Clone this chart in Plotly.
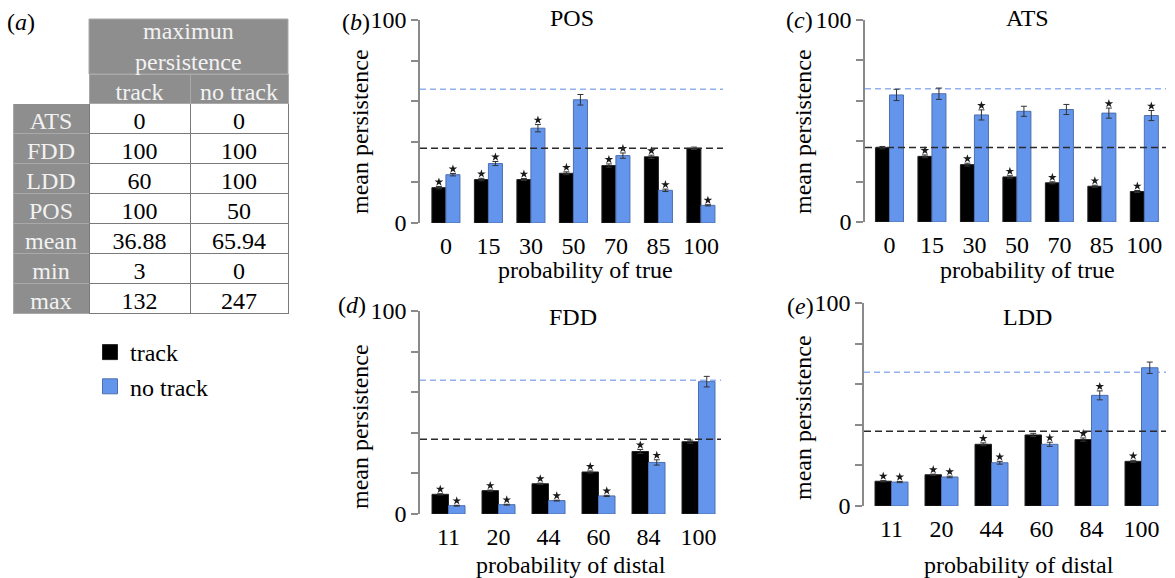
import plotly.graph_objects as go

W, H = 1175, 578
FONT = "Liberation Serif"
FS = 24

# ---------------- data ----------------
table_rows = ["ATS", "FDD", "LDD", "POS", "mean", "min", "max"]
table_track = ["0", "100", "60", "100", "36.88", "3", "132"]
table_notrack = ["0", "100", "100", "50", "65.94", "0", "247"]
table_group = "maximun<br>persistence"
table_cols = ["track", "no\u00a0track"]
mean_track = 36.88
mean_notrack = 65.94

true_cats = ["0", "15", "30", "50", "70", "85", "100"]
distal_cats = ["11", "20", "44", "60", "84", "100"]

pos_track = [17.4, 21.4, 21.4, 24.5, 28.3, 32.6, 36.8]
pos_notrack = [23.8, 29.3, 46.7, 60.7, 33.2, 16.1, 8.7]
pos_track_err = [0.6, 0.6, 0.5, 0.7, 0.8, 0.8, 0.6]
pos_notrack_err = [0.6, 1.0, 1.8, 2.6, 1.3, 0.6, 0.3]
pos_star_track = [1, 1, 1, 1, 1, 1, 0]
pos_star_notrack = [1, 1, 1, 0, 1, 1, 1]

ats_track = [36.8, 32.5, 28.4, 22.3, 19.4, 17.7, 15.1]
ats_notrack = [62.9, 63.5, 53.0, 54.8, 55.7, 53.9, 52.7]
ats_track_err = [0.6, 0.7, 0.7, 0.6, 0.5, 0.5, 0.5]
ats_notrack_err = [2.8, 2.8, 2.5, 2.5, 2.5, 2.5, 2.5]
ats_star_track = [0, 1, 1, 1, 1, 1, 1]
ats_star_notrack = [0, 0, 1, 0, 0, 1, 1]

fdd_track = [9.7, 11.5, 14.9, 20.7, 30.8, 35.6]
fdd_notrack = [4.1, 4.6, 6.6, 8.9, 25.4, 65.2]
fdd_track_err = [0.3, 0.3, 0.3, 0.5, 1.0, 0.8]
fdd_notrack_err = [0.2, 0.2, 0.2, 0.3, 1.3, 2.6]
fdd_star_track = [1, 1, 1, 1, 1, 0]
fdd_star_notrack = [1, 1, 1, 1, 1, 0]

ldd_track = [12.2, 15.4, 30.4, 35.0, 32.7, 22.0]
ldd_notrack = [11.8, 14.3, 21.3, 30.4, 54.5, 68.1]
ldd_track_err = [0.3, 0.3, 0.7, 0.8, 0.8, 0.5]
ldd_notrack_err = [0.3, 0.4, 0.7, 1.0, 2.2, 2.8]
ldd_star_track = [1, 1, 1, 0, 1, 1]
ldd_star_notrack = [1, 1, 1, 1, 1, 0]

# ---------------- styles ----------------
BLACK = "#000000"
BLUE = "#6495ED"
BLUE_LINE = "#4d6fae"
GRAY = "#8e8e8e"
GRAY_LINE = "#a9a9a9"
AXIS_GRAY = "#8a8a8a"
HEAD_TXT = "#f2f2f2"


def px_x(x):
    return x / W


def px_y(y):
    return 1 - y / H


panels = [
    dict(key="", cats=true_cats, t=pos_track, n=pos_notrack, te=pos_track_err, ne=pos_notrack_err,
         st=pos_star_track, sn=pos_star_notrack, xd=(420, 723), yd=(20, 223), xr=(-0.61, 6.52),
         title="POS", letter="b", xtitle="probability of true",
         tpos=(572, 18), lpos=(356, 22), xtpos=(585, 270), ytpos=(360, 132)),
    dict(key="2", cats=true_cats, t=ats_track, n=ats_notrack, te=ats_track_err, ne=ats_notrack_err,
         st=ats_star_track, sn=ats_star_notrack, xd=(865, 1166), yd=(20, 222), xr=(-0.576, 6.51),
         title="ATS", letter="c", xtitle="probability of true",
         tpos=(1027, 18), lpos=(799, 20), xtpos=(1027, 270), ytpos=(803, 132)),
    dict(key="3", cats=distal_cats, t=fdd_track, n=fdd_notrack, te=fdd_track_err, ne=fdd_notrack_err,
         st=fdd_star_track, sn=fdd_star_notrack, xd=(420, 721), yd=(311, 514), xr=(-0.57, 5.45),
         title="FDD", letter="d", xtitle="probability of distal",
         tpos=(573, 317), lpos=(352, 305), xtpos=(571, 565), ytpos=(360, 427)),
    dict(key="4", cats=distal_cats, t=ldd_track, n=ldd_notrack, te=ldd_track_err, ne=ldd_notrack_err,
         st=ldd_star_track, sn=ldd_star_notrack, xd=(864, 1166), yd=(303, 506), xr=(-0.55, 5.49),
         title="LDD", letter="e", xtitle="probability of distal",
         tpos=(1027, 317), lpos=(800, 306), xtpos=(1019, 565), ytpos=(803, 418)),
]

fig = go.Figure()
BW = 0.33
STAR_GAP = 2.2  # data units above the error bar
layout_axes = {}
annotations = []
shapes = []


def ann(text, x, y, **kw):
    d = dict(text=text, x=px_x(x), y=px_y(y), xref="paper", yref="paper", showarrow=False,
             xanchor="center", yanchor="middle",
             font=dict(family=FONT, size=FS, color=kw.pop("color", "black")))
    d.update(kw)
    return d


for i, p in enumerate(panels):
    xa = "x" + p["key"]
    ya = "y" + p["key"]
    idx = list(range(len(p["cats"])))
    fig.add_trace(go.Bar(
        x=idx, y=p["t"], width=BW, offset=-BW, name="track",
        marker=dict(color=BLACK, line=dict(color="#222222", width=1)),
        error_y=dict(type="data", array=p["te"], color="#333333", thickness=1, width=3),
        xaxis=xa, yaxis=ya, showlegend=False,
    ))
    fig.add_trace(go.Bar(
        x=idx, y=p["n"], width=BW, offset=0, name="no track",
        marker=dict(color=BLUE, line=dict(color=BLUE_LINE, width=1)),
        error_y=dict(type="data", array=p["ne"], color="#333333", thickness=1, width=3),
        xaxis=xa, yaxis=ya, showlegend=False,
    ))
    sx, sy = [], []
    for j in idx:
        if p["st"][j]:
            sx.append(j - BW / 2)
            sy.append(p["t"][j] + p["te"][j] + STAR_GAP)
        if p["sn"][j]:
            sx.append(j + BW / 2)
            sy.append(p["n"][j] + p["ne"][j] + STAR_GAP)
    fig.add_trace(go.Scatter(
        x=sx, y=sy, mode="markers",
        marker=dict(symbol="star", size=6.5, color="#1a1a1a", line=dict(width=0)),
        xaxis=xa, yaxis=ya, showlegend=False, hoverinfo="skip",
    ))
    xname = "xaxis" + p["key"]
    yname = "yaxis" + p["key"]
    layout_axes[xname] = dict(
        domain=[px_x(p["xd"][0]), px_x(p["xd"][1])], anchor=ya, range=list(p["xr"]),
        tickvals=idx, ticktext=p["cats"], showline=False, showgrid=False, zeroline=False,
        ticks="", tickfont=dict(family=FONT, size=FS, color="black"), ticklabelstandoff=6,
        automargin=False,
    )
    layout_axes[yname] = dict(
        domain=[px_y(p["yd"][1]), px_y(p["yd"][0])], anchor=xa, range=[0, 100],
        tickvals=[0, 20, 40, 60, 80, 100], ticktext=["0", "", "", "", "", "100"],
        showline=True, linecolor=AXIS_GRAY, linewidth=1.5, ticks="outside", ticklen=7,
        tickcolor=AXIS_GRAY, tickwidth=1.5, showgrid=False, zeroline=False,
        tickfont=dict(family=FONT, size=FS, color="black"), automargin=False,
    )
    shapes.append(dict(type="line", xref=xa + " domain", yref=ya, x0=0, x1=1,
                       y0=mean_notrack, y1=mean_notrack,
                       line=dict(color="#93b1ee", width=1.5, dash="6px,4px"), layer="below"))
    shapes.append(dict(type="line", xref=xa + " domain", yref=ya, x0=0, x1=1,
                       y0=mean_track, y1=mean_track,
                       line=dict(color="#2b2b2b", width=1.5, dash="7px,4px"), layer="above"))
    annotations.append(ann(p["title"], *p["tpos"]))
    annotations.append(ann("(<i>%s</i>)" % p["letter"], *p["lpos"]))
    annotations.append(ann(p["xtitle"], *p["xtpos"]))
    annotations.append(ann("mean persistence", *p["ytpos"], textangle=-90))

annotations.append(ann("(<i>a</i>)", 21, 22))

# legend entries (square swatches)
fig.add_trace(go.Scatter(x=[None], y=[None], mode="markers", name="track",
                         marker=dict(symbol="square", size=15, color=BLACK,
                                     line=dict(color="#222222", width=1)),
                         showlegend=True, hoverinfo="skip"))
fig.add_trace(go.Scatter(x=[None], y=[None], mode="markers", name="no track",
                         marker=dict(symbol="square", size=15, color=BLUE,
                                     line=dict(color=BLUE_LINE, width=1)),
                         showlegend=True, hoverinfo="skip"))

# ---------------- table (a) ----------------
shapes.append(dict(type="rect", xref="paper", yref="paper",
                   x0=px_x(89), x1=px_x(288), y0=px_y(74), y1=px_y(19),
                   fillcolor=GRAY, line=dict(color=GRAY_LINE, width=1), layer="below"))
annotations.append(ann(table_group, 188.5, 46, color=HEAD_TXT))

n = len(table_rows)
fig.add_trace(go.Table(
    domain=dict(x=[px_x(13), px_x(288)], y=[0.3, px_y(74)]),
    columnwidth=[76, 101, 98],
    header=dict(values=[""] + table_cols, height=29,
                fill=dict(color=["white", GRAY, GRAY]),
                line=dict(color=["white", GRAY_LINE, GRAY_LINE], width=1),
                font=dict(family=FONT, size=FS, color=HEAD_TXT), align="center"),
    cells=dict(values=[table_rows, table_track, table_notrack], height=30,
               fill=dict(color=[[GRAY] * n, ["white"] * n, ["white"] * n]),
               line=dict(color=[[GRAY_LINE] * n, ["#7a7a7a"] * n, ["#7a7a7a"] * n], width=1),
               font=dict(family=FONT, size=FS, color=[[HEAD_TXT] * n, ["black"] * n, ["black"] * n]),
               align="center"),
))

fig.update_layout(
    width=W, height=H, margin=dict(l=0, r=0, t=0, b=0, pad=0, autoexpand=False),
    paper_bgcolor="white", plot_bgcolor="white",
    barmode="overlay",
    showlegend=True,
    legend=dict(x=px_x(90), y=px_y(330), xanchor="left", yanchor="top",
                font=dict(family=FONT, size=FS, color="black"), bgcolor="rgba(0,0,0,0)",
                tracegroupgap=0, itemwidth=30),
    annotations=annotations, shapes=shapes,
    **layout_axes,
)

post = ("document.body.style.margin='0';document.body.style.padding='0';"
        "var d=document.getElementById('{plot_id}');"
        "d.style.position='absolute';d.style.left='0px';d.style.top='0px';")
fig.write_html("out.html", post_script=post, config={"displayModeBar": False})
